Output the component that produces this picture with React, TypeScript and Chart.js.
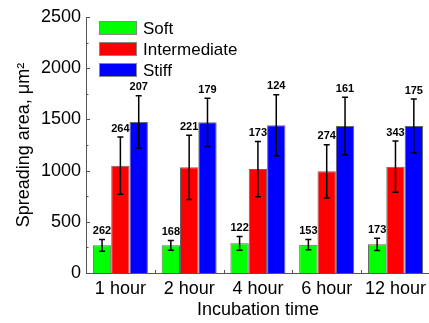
import React, { useEffect, useRef } from "react";
import { Chart, registerables } from "chart.js";

Chart.register(...registerables);

const categories = ["1 hour", "2 hour", "4 hour", "6 hour", "12 hour"];
const seriesNames = ["Soft", "Intermediate", "Stiff"];
const softMean = [270, 270, 290, 277, 280];
const softErr = [58, 48, 67, 49, 60];
const interMean = [1048, 1032, 1015, 993, 1038];
const interErr = [280, 314, 270, 260, 250];
const stiffMean = [1475, 1471, 1442, 1436, 1436];
const stiffErr = [255, 235, 298, 280, 262];
const softN = [262, 168, 122, 153, 173];
const interN = [264, 221, 173, 274, 343];
const stiffN = [207, 179, 124, 161, 175];
const colors = ["#00ff00", "#ff0000", "#0000ff"];
const yTickValues = [0, 500, 1000, 1500, 2000, 2500];

const FONT = "'Liberation Sans', Arial, sans-serif";

export default function App() {
  const ref = useRef<HTMLCanvasElement | null>(null);
  useEffect(() => {
    document.body.style.margin = "0";
    const errs = [softErr, interErr, stiffErr];
    const counts = [softN, interN, stiffN];

    const overlay = {
      id: "overlay",
      afterDatasetsDraw(chart: any) {
        const ctx = chart.ctx;
        const ys = chart.scales.y;
        const xs = chart.scales.x;
        const area = chart.chartArea;
        ctx.save();
        chart.data.datasets.forEach((ds: any, d: number) => {
          const meta = chart.getDatasetMeta(d);
          meta.data.forEach((el: any, i: number) => {
            const v = ds.data[i];
            const e = errs[d][i];
            const x = el.x;
            const yt = ys.getPixelForValue(v + e);
            const yb = ys.getPixelForValue(v - e);
            ctx.strokeStyle = "#000";
            ctx.lineWidth = 1.5;
            ctx.beginPath();
            ctx.moveTo(x, yt);
            ctx.lineTo(x, yb);
            ctx.moveTo(x - 3, yt);
            ctx.lineTo(x + 3, yt);
            ctx.moveTo(x - 3, yb);
            ctx.lineTo(x + 3, yb);
            ctx.stroke();
            ctx.fillStyle = "#000";
            ctx.font = "bold 11px " + FONT;
            ctx.textAlign = "center";
            ctx.textBaseline = "bottom";
            ctx.fillText(String(counts[d][i]), x, yt - 3);
          });
        });
        ctx.strokeStyle = "#555";
        ctx.lineWidth = 1;
        ctx.beginPath();
        ctx.moveTo(area.left + 0.5, area.top);
        ctx.lineTo(area.left + 0.5, area.bottom + 0.5);
        ctx.lineTo(area.right, area.bottom + 0.5);
        ctx.stroke();
        ctx.beginPath();
        for (let v = 0; v <= 2500; v += 250) {
          const y = Math.round(ys.getPixelForValue(v)) + 0.5;
          const len = v % 500 === 0 ? 4 : 2.5;
          ctx.moveTo(area.left, y);
          ctx.lineTo(area.left + len, y);
        }
        for (let i = 0; i < categories.length - 1; i++) {
          const x = Math.round((xs.getPixelForValue(i) + xs.getPixelForValue(i + 1)) / 2) + 0.5;
          ctx.moveTo(x, area.bottom);
          ctx.lineTo(x, area.bottom - 3);
        }
        ctx.stroke();
        const lx = 99, ly = 21, bw = 38, bh = 14, gap = 21;
        chart.data.datasets.forEach((ds: any, d: number) => {
          const y = ly + d * gap;
          ctx.fillStyle = ds.backgroundColor;
          ctx.fillRect(lx, y, bw, bh);
          ctx.strokeStyle = "#888";
          ctx.lineWidth = 1;
          ctx.strokeRect(lx + 0.5, y + 0.5, bw - 1, bh - 1);
          ctx.fillStyle = "#000";
          ctx.font = "17px " + FONT;
          ctx.textAlign = "left";
          ctx.textBaseline = "middle";
          ctx.fillText(ds.label, lx + bw + 6, y + bh / 2 + 1);
        });
        ctx.restore();
      },
    };

    const chart = new Chart(ref.current as HTMLCanvasElement, {
      type: "bar",
      data: {
        labels: categories,
        datasets: [softMean, interMean, stiffMean].map((arr, d) => ({
          label: seriesNames[d],
          data: arr,
          backgroundColor: colors[d],
          borderColor: "#666",
          borderWidth: 1,
          categoryPercentage: 0.8,
          barPercentage: 1.0,
        })),
      },
      options: {
        responsive: false,
        animation: false,
        layout: { padding: { top: 17, right: 0, left: 0, bottom: 0 } },
        plugins: { legend: { display: false }, tooltip: { enabled: false } },
        scales: {
          x: {
            grid: { display: false, drawTicks: false },
            border: { display: false },
            ticks: { color: "#000", font: { family: FONT, size: 18 }, padding: 5, maxRotation: 0 },
            title: {
              display: true,
              text: "Incubation time",
              color: "#000",
              font: { family: FONT, size: 18 },
              padding: { top: 0, bottom: 2 },
            },
            afterFit: (s: any) => {
              s.height = 50;
            },
          },
          y: {
            min: 0,
            max: 2500,
            grid: { display: false, drawTicks: false },
            border: { display: false },
            afterBuildTicks: (s: any) => {
              s.ticks = yTickValues.map((v) => ({ value: v }));
            },
            ticks: {
              color: "#000",
              font: { family: FONT, size: 18 },
              padding: 5,
              callback: (v: any) => String(v),
            },
            title: {
              display: true,
              text: "Spreading area, μm²",
              color: "#000",
              font: { family: FONT, size: 18 },
              padding: { top: 13, bottom: 0 },
            },
            afterFit: (s: any) => {
              s.width = 86;
            },
          },
        },
      },
      plugins: [overlay],
    });
    return () => chart.destroy();
  }, []);
  return (
    <div style={{ width: 429, height: 323, overflow: "hidden", background: "#fff" }}>
      <canvas ref={ref} width={431} height={323} style={{ display: "block" }} />
    </div>
  );
}
